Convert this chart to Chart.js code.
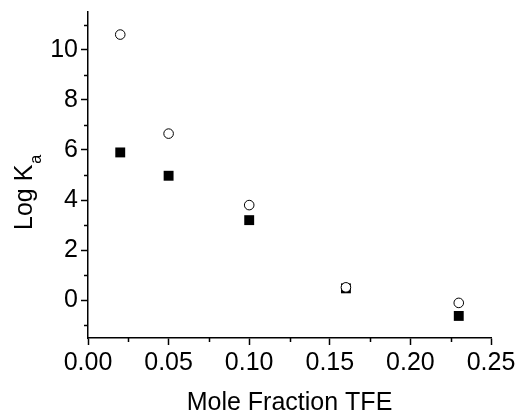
<!DOCTYPE html>
<html>
<head>
<meta charset="utf-8">
<script src="https://cdn.jsdelivr.net/npm/chart.js@4/dist/chart.umd.min.js"></script>
<style>
  body { margin: 0; background: #fff; }
</style>
</head>
<body>
<canvas id="kaChart" width="519" height="412"></canvas>
<script>
// mole fraction of TFE
var moleFraction = [0.02, 0.05, 0.10, 0.16, 0.23];
// log Ka, open circles
var logKaOpen = [10.6, 6.65, 3.8, 0.52, -0.1];
// log Ka, filled squares
var logKaFilled = [5.9, 4.97, 3.2, 0.48, -0.62];

var xMajor = [0, 0.05, 0.10, 0.15, 0.20, 0.25];
var xMinor = [0.025, 0.075, 0.125, 0.175, 0.225];
var yMajor = [0, 2, 4, 6, 8, 10];
var yMinor = [-1, 1, 3, 5, 7, 9, 11];

function toPoints(xs, ys) {
	return xs.map(function(x, i) { return { x: x, y: ys[i] }; });
}

var fontFamily = "'Liberation Sans', Arial, Helvetica, sans-serif";

// short outward ticks between the labelled ones, plus the axis titles
var axisExtras = {
	id: 'axisExtras',
	afterDraw: function(chart) {
		var ctx = chart.ctx;
		var xs = chart.scales.x, ys = chart.scales.y;
		var area = chart.chartArea;
		ctx.save();
		ctx.strokeStyle = '#000';
		ctx.lineWidth = 1.5;
		ctx.beginPath();
		xMinor.forEach(function(v) {
			var px = Math.round(xs.getPixelForValue(v)) + 0.5;
			ctx.moveTo(px, area.bottom);
			ctx.lineTo(px, area.bottom + 4);
		});
		yMinor.forEach(function(v) {
			var py = Math.round(ys.getPixelForValue(v)) + 0.5;
			ctx.moveTo(area.left, py);
			ctx.lineTo(area.left - 4, py);
		});
		ctx.stroke();

		ctx.fillStyle = '#000';
		ctx.textBaseline = 'alphabetic';

		// x title
		ctx.font = '25px ' + fontFamily;
		ctx.textAlign = 'center';
		ctx.fillText('Mole Fraction TFE', (area.left + area.right) / 2, 410);

		// y title with subscript
		ctx.translate(32, 230);
		ctx.rotate(-Math.PI / 2);
		ctx.textAlign = 'left';
		ctx.font = '25px ' + fontFamily;
		var main = 'Log K';
		ctx.fillText(main, 0, 0);
		var w = ctx.measureText(main).width;
		ctx.font = '16px ' + fontFamily;
		ctx.fillText('a', w + 1, 9);
		ctx.restore();
	}
};

var ctx = document.getElementById('kaChart');

var chart = new Chart(ctx, {
	type: 'scatter',
	data: {
		datasets: [
			{
				label: 'open',
				data: toPoints(moleFraction, logKaOpen),
				pointStyle: 'circle',
				pointRadius: 4.8,
				pointHoverRadius: 4.8,
				backgroundColor: '#fff',
				borderColor: '#000',
				borderWidth: 1
			},
			{
				label: 'filled',
				data: toPoints(moleFraction, logKaFilled),
				pointStyle: 'rect',
				pointRadius: 7,
				pointHoverRadius: 7,
				backgroundColor: '#000',
				borderColor: '#000',
				borderWidth: 0
			}
		]
	},
	options: {
		responsive: false,
		animation: false,
		devicePixelRatio: 1,
		layout: { padding: { top: 12, right: 28, left: 0, bottom: 0 } },
		plugins: {
			legend: { display: false },
			tooltip: { enabled: false }
		},
		scales: {
			x: {
				type: 'linear',
				min: 0,
				max: 0.25,
				afterBuildTicks: function(scale) {
					scale.ticks = xMajor.map(function(v) { return { value: v }; });
				},
				afterFit: function(scale) {
					scale.height = 74;
					scale.paddingLeft = 0;
					scale.paddingRight = 0;
				},
				grid: {
					drawOnChartArea: false,
					drawTicks: true,
					tickLength: 7,
					tickWidth: 1.5,
					tickColor: '#000'
				},
				border: { display: true, color: '#000', width: 1.5 },
				ticks: {
					padding: 3,
					maxRotation: 0,
					color: '#000',
					font: { family: fontFamily, size: 25 },
					callback: function(v) { return Number(v).toFixed(2); }
				}
			},
			y: {
				type: 'linear',
				min: -1.5,
				max: 11.5,
				afterBuildTicks: function(scale) {
					scale.ticks = yMajor.map(function(v) { return { value: v }; });
				},
				afterFit: function(scale) {
					scale.width = 88;
					scale.paddingTop = 0;
					scale.paddingBottom = 0;
				},
				grid: {
					drawOnChartArea: false,
					drawTicks: true,
					tickLength: 7,
					tickWidth: 1.5,
					tickColor: '#000'
				},
				border: { display: true, color: '#000', width: 1.5 },
				ticks: {
					padding: 3,
					color: '#000',
					font: { family: fontFamily, size: 25 },
					callback: function(v) { return String(v); }
				}
			}
		}
	},
	plugins: [axisExtras]
});
</script>
</body>
</html>
